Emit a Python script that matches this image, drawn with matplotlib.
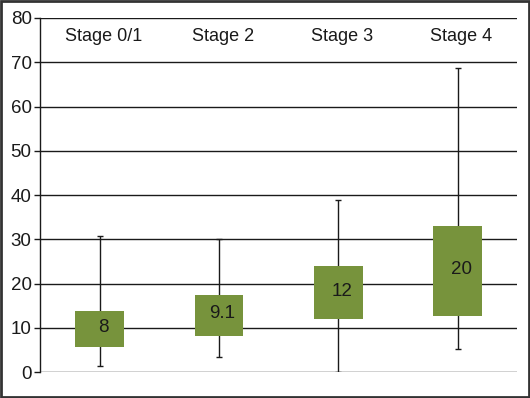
import matplotlib
matplotlib.use("Agg")
import matplotlib.pyplot as plt
import matplotlib.patches as mpatches

plt.rcParams['font.family'] = ['Liberation Sans', 'DejaVu Sans']

# data
stages = ["Stage 0/1", "Stage 2", "Stage 3", "Stage 4"]
whisker_low = [1.4, 3.4, 0.0, 5.3]
box_low = [5.8, 8.3, 12.0, 12.8]
box_high = [13.8, 17.4, 23.9, 33.0]
whisker_high = [30.7, 30.0, 39.0, 68.8]
median_labels = ["8", "9.1", "12", "20"]
yticks = [0, 10, 20, 30, 40, 50, 60, 70, 80]

box_color = "#77933C"
line_color = "#1a1a1a"

fig = plt.figure(figsize=(5.3, 3.98), dpi=100)
ax = fig.add_axes([0.0755, 0.0646, 0.9005, 0.8904])

x = list(range(len(stages)))

# whiskers behind the boxes
ax.vlines(x, whisker_low, whisker_high, color=line_color, linewidth=1, zorder=2)
ax.hlines(whisker_low, [i - 0.025 for i in x], [i + 0.025 for i in x], color=line_color, linewidth=1, zorder=2)
ax.hlines(whisker_high, [i - 0.025 for i in x], [i + 0.025 for i in x], color=line_color, linewidth=1, zorder=2)

heights = [h - l for l, h in zip(box_low, box_high)]
ax.bar(x, heights, bottom=box_low, width=0.41, color=box_color, zorder=3)

for i in x:
    mid = (box_low[i] + box_high[i]) / 2 + 0.4
    ax.text(i + 0.03, mid, median_labels[i], ha="center", va="center", fontsize=13.5, color=line_color, zorder=4)
    ax.text(i + 0.03, 75.8, stages[i], ha="center", va="center", fontsize=13, color=line_color)

ax.set_xlim(-0.5, 3.5)
ax.set_ylim(0, 80)
ax.set_yticks(yticks)
ax.set_xticks([])
ax.grid(axis="y", color=line_color, linewidth=1, zorder=1)
ax.tick_params(axis="y", length=4, width=1, color=line_color, labelsize=13.5, labelcolor=line_color, pad=2)
for side in ["top", "right", "bottom"]:
    ax.spines[side].set_visible(False)
ax.spines["left"].set_color(line_color)
ax.spines["left"].set_linewidth(1)
ax.set_axisbelow(True)

# frame round the whole picture
fig.patches.append(mpatches.Rectangle((0.002, 0.003), 0.996, 0.994, transform=fig.transFigure,
                                      fill=False, edgecolor="#333333", linewidth=2))

fig.savefig("out.png", dpi=100)
